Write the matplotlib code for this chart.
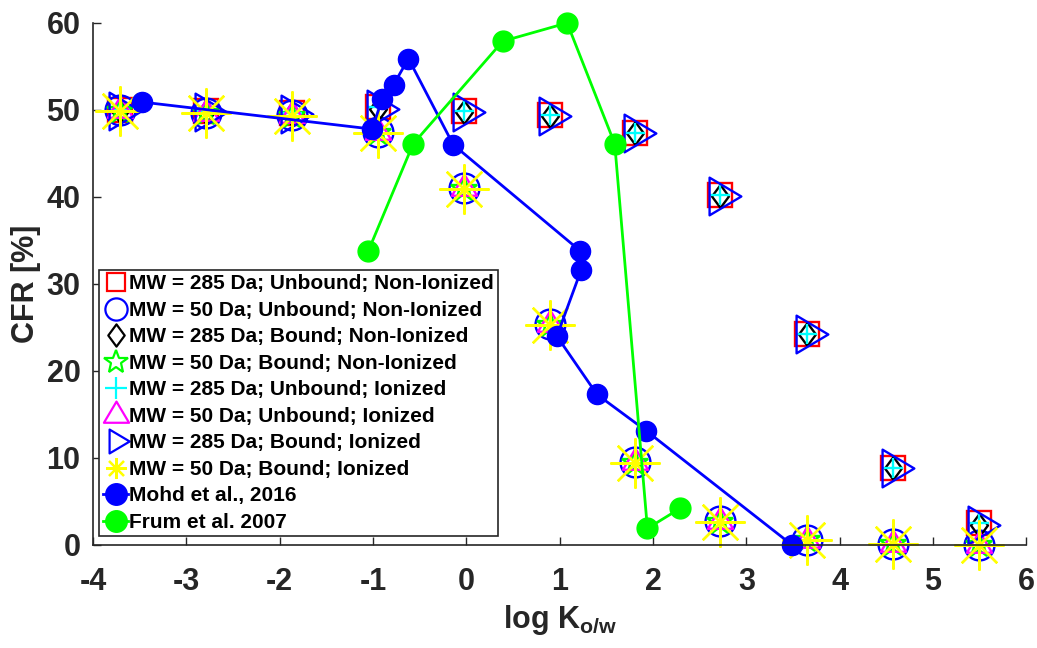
import matplotlib
matplotlib.use('Agg')
import matplotlib.pyplot as plt
from matplotlib.path import Path
from matplotlib.lines import Line2D

plt.rcParams['font.family'] = ['Liberation Sans', 'DejaVu Sans']
plt.rcParams['font.weight'] = 'bold'
plt.rcParams['axes.unicode_minus'] = False
plt.rcParams['mathtext.fontset'] = 'custom'
plt.rcParams['mathtext.rm'] = 'Liberation Sans:bold'
plt.rcParams['mathtext.bf'] = 'Liberation Sans:bold'
plt.rcParams['mathtext.default'] = 'rm'

# model predictions (log Kow grid)
x_model = [-3.71, -2.79, -1.87, -0.95, -0.02, 0.90, 1.81, 2.72, 3.65, 4.57, 5.49]
cfr_285_unbound = [50.0, 49.9, 49.6, 50.3, 49.9, 49.4, 47.4, 40.2, 24.3, 8.8, 2.5]
cfr_285_bound = [49.9, 49.8, 49.5, 50.1, 49.8, 49.3, 47.3, 40.1, 24.2, 8.8, 2.3]
cfr_50_unbound = [50.0, 49.7, 49.4, 47.5, 41.0, 25.4, 9.5, 2.7, 0.6, 0.1, 0.0]
cfr_50_bound = [49.9, 49.6, 49.3, 47.4, 40.9, 25.3, 9.4, 2.6, 0.6, 0.1, 0.0]

# literature data
mohd_x = [-3.47, -1.01, -0.90, -0.78, -0.62, -0.14, 1.22, 1.23, 0.97, 1.40, 1.93, 3.49]
mohd_y = [50.9, 47.8, 51.3, 52.9, 55.9, 46.0, 33.8, 31.6, 24.0, 17.3, 13.1, 0.0]
frum_x = [-1.05, -0.57, 0.39, 1.08, 1.59, 1.94, 2.29]
frum_y = [33.8, 46.1, 57.9, 60.0, 46.1, 1.9, 4.2]

x_ticks = [-4, -3, -2, -1, 0, 1, 2, 3, 4, 5, 6]
y_ticks = [0, 10, 20, 30, 40, 50, 60]

# MATLAB-like markers (triangles centred on centroid)
tri_right = Path([(-11, 19), (-11, -19), (21, 0), (-11, 19)], closed=True)
tri_up = Path([(-19, -11), (19, -11), (0, 21), (-19, -11)], closed=True)
diamond = Path([(0, 11.5), (8.5, 0), (0, -11.5), (-8.5, 0), (0, 11.5)], closed=True)
asterisk = (8, 2, 0)

series = [
    (cfr_285_unbound, 'MW = 285 Da; Unbound; Non-Ionized', 's', 'red', 17, 12.5),
    (cfr_50_unbound, 'MW = 50 Da; Unbound; Non-Ionized', 'o', 'blue', 21.5, 16),
    (cfr_285_bound, 'MW = 285 Da; Bound; Non-Ionized', diamond, 'black', 16.5, 16),
    (cfr_50_bound, 'MW = 50 Da; Bound; Non-Ionized', '*', (0, 1, 0), 20, 18),
    (cfr_285_unbound, 'MW = 285 Da; Unbound; Ionized', '+', 'cyan', 14.5, 16),
    (cfr_50_unbound, 'MW = 50 Da; Unbound; Ionized', tri_up, 'magenta', 20, 20),
    (cfr_285_bound, 'MW = 285 Da; Bound; Ionized', tri_right, 'blue', 30, 19),
    (cfr_50_bound, 'MW = 50 Da; Bound; Ionized', asterisk, 'yellow', 36, 15),
]

fig = plt.figure(figsize=(10.37, 6.48), dpi=100)
ax = fig.add_axes([0.0897, 0.159, 0.9, 0.8056])

handles = []
for y, label, marker, color, ms, leg_ms in series:
    ax.plot(x_model, y, linestyle='None', marker=marker, markersize=ms,
            markerfacecolor='none', markeredgecolor=color, markeredgewidth=1.7,
            clip_on=False)
    handles.append(Line2D([], [], linestyle='None', marker=marker, markersize=leg_ms,
                          markerfacecolor='none', markeredgecolor=color,
                          markeredgewidth=1.6, label=label))

ax.plot(mohd_x, mohd_y, color='blue', linewidth=2, marker='o', markersize=14.5,
        clip_on=False)
ax.plot(frum_x, frum_y, color=(0, 1, 0), linewidth=2, marker='o', markersize=15,
        clip_on=False)
handles.append(Line2D([], [], color='blue', linewidth=2, marker='o', markersize=15.5,
                      label='Mohd et al., 2016'))
handles.append(Line2D([], [], color=(0, 1, 0), linewidth=2, marker='o', markersize=15.5,
                      label='Frum et al. 2007'))

ax.set_xlim(-4, 6)
ax.set_ylim(0, 60)
ax.set_xticks(x_ticks)
ax.set_yticks(y_ticks)
ax.spines['top'].set_visible(False)
ax.spines['right'].set_visible(False)
for s in ['left', 'bottom']:
    ax.spines[s].set_color('#262626')
    ax.spines[s].set_linewidth(1.2)
ax.tick_params(direction='in', length=6, width=1, colors='#262626', labelsize=22)
ax.tick_params(axis='x', pad=16)
ax.tick_params(axis='y', pad=9)
for lbl in ax.get_xticklabels() + ax.get_yticklabels():
    lbl.set_fontweight('bold')

ax.set_xlabel(r'log K$_{o/w}$', fontsize=22, fontweight='bold', color='#262626', labelpad=4)
ax.set_ylabel('CFR [%]', fontsize=22, fontweight='bold', color='#262626', labelpad=4)

leg = ax.legend(handles=handles, loc='upper left', bbox_to_anchor=(0.0955, 0.583),
                bbox_transform=fig.transFigure, borderaxespad=0, borderpad=0.2,
                fontsize=15, handlelength=1.2, handletextpad=0.05, labelspacing=0.36,
                fancybox=False, framealpha=1)
leg.get_frame().set_edgecolor('#262626')
leg.get_frame().set_linewidth(1.2)
for t in leg.get_texts():
    t.set_fontweight('bold')

plt.savefig('out.png', dpi=100)
